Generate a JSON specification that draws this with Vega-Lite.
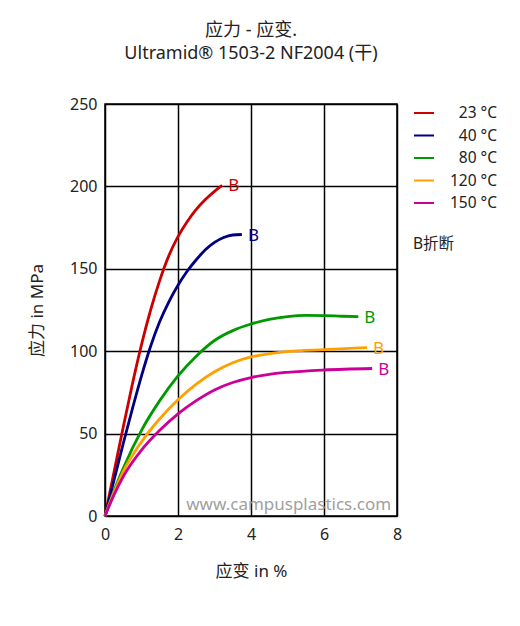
{
  "$schema": "https://vega.github.io/schema/vega-lite/v6.json",
  "width": 292,
  "height": 412,
  "autosize": {"type": "none"},
  "padding": {"left": 105, "top": 104, "right": 123, "bottom": 110},
  "background": "white",
  "title": {
    "text": ["应力 - 应变.", "Ultramid® 1503-2 NF2004 (干)"],
    "fontSize": 18,
    "fontWeight": "normal",
    "color": "#222",
    "lineHeight": 23,
    "offset": 33,
    "anchor": "middle",
    "font": "Noto Sans, Noto Sans CJK SC"
  },
  "config": {
    "font": "Noto Sans, Noto Sans CJK SC",
    "view": {"stroke": "black", "strokeWidth": 1.5},
    "axis": {
      "grid": true,
      "gridColor": "black",
      "gridWidth": 1.5,
      "gridOpacity": 1,
      "domain": false,
      "ticks": false,
      "labelFontSize": 16,
      "labelColor": "#222",
      "labelFlush": false,
      "titleFontSize": 17,
      "titleFontWeight": "normal",
      "titleColor": "#222"
    },
    "legend": {"padding": 0}
  },
  "datasets": {
    "curves": [
      {"series": "23 °C", "strain": 0, "stress": 0},
      {"series": "23 °C", "strain": 0.25, "stress": 27},
      {"series": "23 °C", "strain": 0.5, "stress": 54},
      {"series": "23 °C", "strain": 0.75, "stress": 80},
      {"series": "23 °C", "strain": 1.0, "stress": 104},
      {"series": "23 °C", "strain": 1.25, "stress": 125},
      {"series": "23 °C", "strain": 1.5, "stress": 143},
      {"series": "23 °C", "strain": 1.75, "stress": 158},
      {"series": "23 °C", "strain": 2.0, "stress": 169.5},
      {"series": "23 °C", "strain": 2.25, "stress": 178.5},
      {"series": "23 °C", "strain": 2.5, "stress": 186},
      {"series": "23 °C", "strain": 2.75, "stress": 192},
      {"series": "23 °C", "strain": 3.0, "stress": 197},
      {"series": "23 °C", "strain": 3.21, "stress": 200.6},
      {"series": "40 °C", "strain": 0, "stress": 0},
      {"series": "40 °C", "strain": 0.25, "stress": 22},
      {"series": "40 °C", "strain": 0.5, "stress": 44},
      {"series": "40 °C", "strain": 0.75, "stress": 65},
      {"series": "40 °C", "strain": 1.0, "stress": 85},
      {"series": "40 °C", "strain": 1.25, "stress": 103},
      {"series": "40 °C", "strain": 1.5, "stress": 118},
      {"series": "40 °C", "strain": 1.75, "stress": 130},
      {"series": "40 °C", "strain": 2.0, "stress": 140},
      {"series": "40 °C", "strain": 2.25, "stress": 148.5},
      {"series": "40 °C", "strain": 2.5, "stress": 155.5},
      {"series": "40 °C", "strain": 2.75, "stress": 161.5},
      {"series": "40 °C", "strain": 3.0, "stress": 166},
      {"series": "40 °C", "strain": 3.25, "stress": 169},
      {"series": "40 °C", "strain": 3.5, "stress": 170.5},
      {"series": "40 °C", "strain": 3.75, "stress": 170.8},
      {"series": "80 °C", "strain": 0, "stress": 0},
      {"series": "80 °C", "strain": 0.25, "stress": 15.5},
      {"series": "80 °C", "strain": 0.5, "stress": 29},
      {"series": "80 °C", "strain": 1.0, "stress": 52},
      {"series": "80 °C", "strain": 1.5, "stress": 70},
      {"series": "80 °C", "strain": 2.0, "stress": 85},
      {"series": "80 °C", "strain": 2.5, "stress": 97},
      {"series": "80 °C", "strain": 3.0, "stress": 106.5},
      {"series": "80 °C", "strain": 3.5, "stress": 112.5},
      {"series": "80 °C", "strain": 4.0, "stress": 116.5},
      {"series": "80 °C", "strain": 4.5, "stress": 119.3},
      {"series": "80 °C", "strain": 5.0, "stress": 121},
      {"series": "80 °C", "strain": 5.5, "stress": 121.7},
      {"series": "80 °C", "strain": 6.0, "stress": 121.6},
      {"series": "80 °C", "strain": 6.5, "stress": 121.2},
      {"series": "80 °C", "strain": 6.94, "stress": 121},
      {"series": "120 °C", "strain": 0, "stress": 0},
      {"series": "120 °C", "strain": 0.25, "stress": 14.5},
      {"series": "120 °C", "strain": 0.5, "stress": 27},
      {"series": "120 °C", "strain": 1.0, "stress": 45},
      {"series": "120 °C", "strain": 1.5, "stress": 59},
      {"series": "120 °C", "strain": 2.0, "stress": 70.5},
      {"series": "120 °C", "strain": 2.5, "stress": 80},
      {"series": "120 °C", "strain": 3.0, "stress": 87.5},
      {"series": "120 °C", "strain": 3.5, "stress": 93},
      {"series": "120 °C", "strain": 4.0, "stress": 96.5},
      {"series": "120 °C", "strain": 4.5, "stress": 98.5},
      {"series": "120 °C", "strain": 5.0, "stress": 99.8},
      {"series": "120 °C", "strain": 6.0, "stress": 101},
      {"series": "120 °C", "strain": 7.18, "stress": 102.2},
      {"series": "150 °C", "strain": 0, "stress": 0},
      {"series": "150 °C", "strain": 0.25, "stress": 13},
      {"series": "150 °C", "strain": 0.5, "stress": 24},
      {"series": "150 °C", "strain": 1.0, "stress": 40},
      {"series": "150 °C", "strain": 1.5, "stress": 52},
      {"series": "150 °C", "strain": 2.0, "stress": 62},
      {"series": "150 °C", "strain": 2.5, "stress": 70},
      {"series": "150 °C", "strain": 3.0, "stress": 76.5},
      {"series": "150 °C", "strain": 3.5, "stress": 81},
      {"series": "150 °C", "strain": 4.0, "stress": 84},
      {"series": "150 °C", "strain": 4.5, "stress": 86},
      {"series": "150 °C", "strain": 5.0, "stress": 87.2},
      {"series": "150 °C", "strain": 6.0, "stress": 88.6},
      {"series": "150 °C", "strain": 7.32, "stress": 89.5}
    ],
    "watermark": [{"strain": 7.84, "stress": 6.5, "text": "www.campusplastics.com"}]
  },
  "layer": [
    {
      "data": {"name": "watermark"},
      "mark": {"type": "text", "align": "right", "baseline": "middle", "fontSize": 17, "color": "#a0a0a0"},
      "encoding": {
        "x": {"field": "strain", "type": "quantitative"},
        "y": {"field": "stress", "type": "quantitative"},
        "text": {"field": "text"}
      }
    },
    {
      "data": {"name": "curves"},
      "mark": {"type": "line", "interpolate": "monotone", "strokeWidth": 2.8},
      "encoding": {
        "x": {
          "field": "strain", "type": "quantitative",
          "scale": {"domain": [0, 8], "nice": false},
          "axis": {"values": [0, 2, 4, 6, 8], "title": "应变 in %", "labelPadding": 10, "titlePadding": 21}
        },
        "y": {
          "field": "stress", "type": "quantitative",
          "scale": {"domain": [0, 250], "nice": false},
          "axis": {"values": [0, 50, 100, 150, 200, 250], "title": "应力 in MPa", "labelPadding": 8, "titlePadding": 23}
        },
        "color": {
          "field": "series", "type": "nominal",
          "scale": {
            "domain": ["23 °C", "40 °C", "80 °C", "120 °C", "150 °C"],
            "range": ["#cc0000", "#000080", "#009900", "#ffa000", "#cc0099"]
          },
          "legend": {
            "title": "B折断",
            "titleOrient": "bottom",
            "titleAnchor": "start",
            "titleFontSize": 15.5,
            "titleFontWeight": "normal",
            "titleColor": "#222",
            "titlePadding": 25,
            "orient": "none",
            "legendX": 308,
            "legendY": -2,
            "symbolType": "stroke",
            "symbolSize": 400,
            "symbolStrokeWidth": 2,
            "labelFontSize": 15.5,
            "labelColor": "#222",
            "labelAlign": "right",
            "labelOffset": 62,
            "rowPadding": 2.5
          }
        },
        "order": {"field": "strain", "type": "quantitative"}
      }
    },
    {
      "data": {"name": "curves"},
      "transform": [
        {"joinaggregate": [{"op": "max", "field": "strain", "as": "maxStrain"}], "groupby": ["series"]},
        {"filter": "datum.strain === datum.maxStrain"}
      ],
      "mark": {"type": "text", "align": "left", "baseline": "middle", "dx": 6, "dy": 1, "fontSize": 17},
      "encoding": {
        "x": {"field": "strain", "type": "quantitative"},
        "y": {"field": "stress", "type": "quantitative"},
        "text": {"value": "B"},
        "color": {"field": "series", "type": "nominal", "legend": null}
      }
    }
  ]
}
